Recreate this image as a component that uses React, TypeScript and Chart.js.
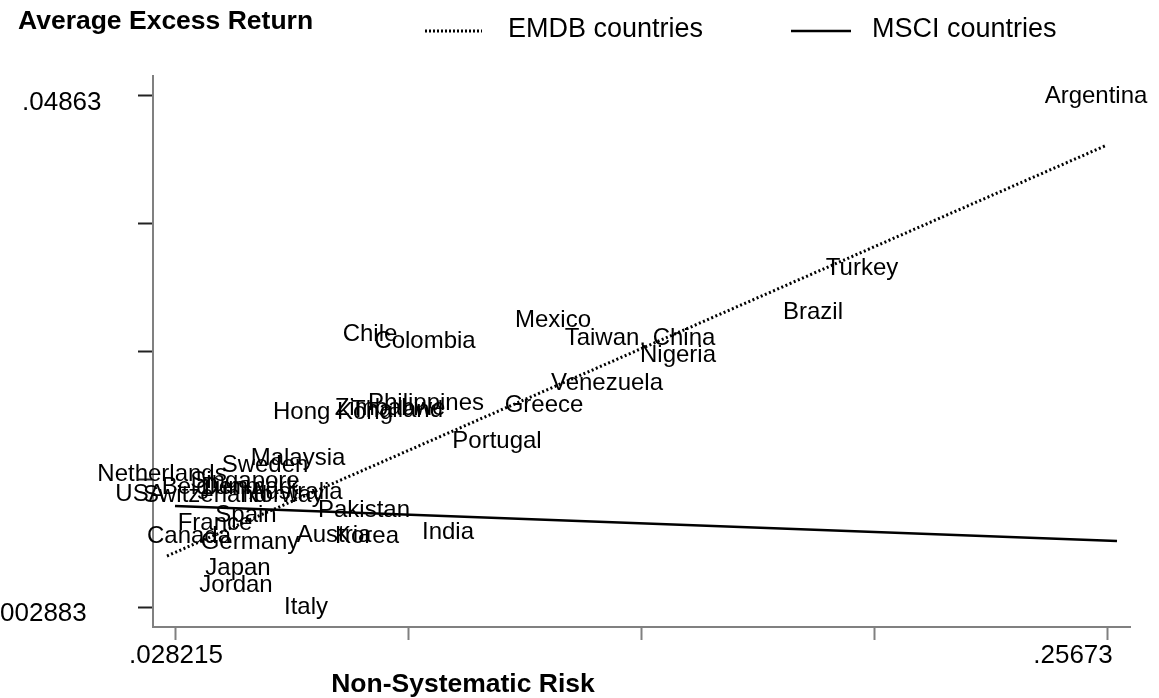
import React, { useEffect, useRef } from "react";
import { Chart, registerables } from "chart.js";

Chart.register(...registerables);

// EMDB countries (emerging markets)
const emdbCountries = [
  "Argentina", "Turkey", "Brazil", "Mexico", "Taiwan, China", "Nigeria", "Venezuela",
  "Greece", "Chile", "Colombia", "Philippines", "Zimbabwe", "Thailand", "Portugal",
  "Malaysia", "Pakistan", "Korea", "India", "Jordan",
];
const emdbRisk = [
  0.25403, 0.196594, 0.184567, 0.12075, 0.142104, 0.151431, 0.134004,
  0.118541, 0.075832, 0.089332, 0.089577, 0.080742, 0.08246, 0.107005,
  0.05816, 0.07436, 0.075096, 0.094978, 0.042942,
];
const emdbReturn = [
  0.04863, 0.03323, 0.029291, 0.028575, 0.026964, 0.025442, 0.022935,
  0.020966, 0.027322, 0.026695, 0.021145, 0.020697, 0.020518, 0.017743,
  0.016221, 0.011566, 0.009239, 0.009597, 0.004852,
];

// MSCI countries (developed markets)
const msciCountries = [
  "Hong Kong", "Netherlands", "Sweden", "Singapore", "Denmark", "Belgium", "Australia",
  "Norway", "Switzerland", "USA", "Spain", "France", "Canada", "Germany", "Austria",
  "Japan", "Italy",
];
const msciRisk = [
  0.066751, 0.024779, 0.05006, 0.045151, 0.046378, 0.035333, 0.057669,
  0.054478, 0.035333, 0.019379, 0.045397, 0.037788, 0.031406, 0.046378, 0.066996,
  0.043433, 0.060124,
];
const msciReturn = [
  0.020339, 0.014789, 0.015595, 0.014163, 0.013625, 0.013625, 0.013178,
  0.012909, 0.012909, 0.012999, 0.011119, 0.010403, 0.009239, 0.008702, 0.009328,
  0.006374, 0.002883,
];

// Fitted lines (end points)
const emdbFitRisk = [0.026006, 0.25673];
const emdbFitReturn = [0.007449, 0.044241];
const msciFitRisk = [0.02797, 0.259185];
const msciFitReturn = [0.011925, 0.008791];

// Axes
const xTickValues = [0.028215, 0.08534375, 0.1424725, 0.19960125, 0.25673];
const xTickLabels = [".028215", "", "", "", ".25673"];
const yTickValues = [0.002883, 0.01431975, 0.0257565, 0.03719325, 0.04863];
const yTickLabels = ["002883", "", "", "", ".04863"];
const xRange = [0.02257, 0.262374];
const yRange = [0.001093, 0.05042];

const xTitle = "Non-Systematic Risk";
const yTitle = "Average Excess Return";
const legendLabels = ["EMDB countries", "MSCI countries"];

const FONT = "'Liberation Sans', Arial, Helvetica, sans-serif";

const textPlugin = {
  id: "stataText",
  afterDraw(chart: any) {
    const ctx = chart.ctx as CanvasRenderingContext2D;
    const xs = chart.scales.x;
    const ys = chart.scales.y;
    const area = chart.chartArea;
    ctx.save();
    ctx.fillStyle = "#000";

    // marker labels (centred on the point)
    ctx.font = `24px ${FONT}`;
    ctx.textAlign = "center";
    ctx.textBaseline = "middle";
    const drawSet = (names: string[], xv: number[], yv: number[]) => {
      names.forEach((n, i) => {
        ctx.fillText(n, xs.getPixelForValue(xv[i]), ys.getPixelForValue(yv[i]));
      });
    };
    drawSet(msciCountries, msciRisk, msciReturn);
    drawSet(emdbCountries, emdbRisk, emdbReturn);

    // tick labels
    ctx.font = `26px ${FONT}`;
    xTickValues.forEach((v, i) => {
      const lab = xTickLabels[i];
      if (!lab) return;
      const px = xs.getPixelForValue(v);
      const shift = i === xTickValues.length - 1 ? -34 : 0;
      ctx.textAlign = "center";
      ctx.fillText(lab, px + shift, area.bottom + 29);
    });
    yTickValues.forEach((v, i) => {
      const lab = yTickLabels[i];
      if (!lab) return;
      const py = ys.getPixelForValue(v);
      ctx.textAlign = "left";
      ctx.fillText(lab, i === 0 ? 0 : 22, py + 7);
    });

    // axis titles
    ctx.font = `bold 26.5px ${FONT}`;
    ctx.textAlign = "left";
    ctx.fillText(yTitle, 18, 22);
    ctx.textAlign = "center";
    ctx.fillText(xTitle, 463, 685);

    // legend
    ctx.strokeStyle = "#000";
    ctx.lineWidth = 3;
    ctx.setLineDash([2, 2]);
    ctx.beginPath();
    ctx.moveTo(425, 31);
    ctx.lineTo(482, 31);
    ctx.stroke();
    ctx.setLineDash([]);
    ctx.lineWidth = 2.5;
    ctx.beginPath();
    ctx.moveTo(791, 31);
    ctx.lineTo(851, 31);
    ctx.stroke();
    ctx.font = `27px ${FONT}`;
    ctx.textAlign = "left";
    ctx.fillText(legendLabels[0], 508, 30);
    ctx.fillText(legendLabels[1], 872, 30);
    ctx.restore();
  },
};

export default function App() {
  const ref = useRef<HTMLCanvasElement | null>(null);
  useEffect(() => {
    if (!ref.current) return;
    const toPts = (xv: number[], yv: number[]) => xv.map((x, i) => ({ x, y: yv[i] }));
    const chart = new Chart(ref.current, {
      type: "scatter",
      data: {
        datasets: [
          {
            label: legendLabels[0] + " points",
            data: toPts(emdbRisk, emdbReturn),
            pointRadius: 0,
            pointHoverRadius: 0,
          },
          {
            label: legendLabels[1] + " points",
            data: toPts(msciRisk, msciReturn),
            pointRadius: 0,
            pointHoverRadius: 0,
          },
          {
            type: "line",
            label: legendLabels[0],
            data: toPts(emdbFitRisk, emdbFitReturn),
            borderColor: "#000",
            borderWidth: 3,
            borderDash: [2, 2.5],
            pointRadius: 0,
            fill: false,
            clip: false,
          } as any,
          {
            type: "line",
            label: legendLabels[1],
            data: toPts(msciFitRisk, msciFitReturn),
            borderColor: "#000",
            borderWidth: 2.5,
            pointRadius: 0,
            fill: false,
            clip: false,
          } as any,
        ],
      },
      options: {
        responsive: false,
        animation: false,
        events: [],
        layout: { autoPadding: false, padding: { left: 138, right: 29, top: 76, bottom: 58 } },
        plugins: { legend: { display: false }, tooltip: { enabled: false }, title: { display: false } },
        scales: {
          x: {
            type: "linear",
            min: xRange[0],
            max: xRange[1],
            afterBuildTicks: (axis: any) => {
              axis.ticks = xTickValues.map((value) => ({ value }));
            },
            ticks: { display: false },
            grid: { drawOnChartArea: false, drawTicks: true, tickLength: 13, tickColor: "#808080", tickWidth: 2 },
            border: { display: true, color: "#808080", width: 2 },
          },
          y: {
            type: "linear",
            min: yRange[0],
            max: yRange[1],
            afterBuildTicks: (axis: any) => {
              axis.ticks = yTickValues.map((value) => ({ value }));
            },
            ticks: { display: false },
            grid: { drawOnChartArea: false, drawTicks: true, tickLength: 15, tickColor: "#222", tickWidth: 2 },
            border: { display: true, color: "#808080", width: 2 },
          },
        },
      },
      plugins: [textPlugin],
    } as any);
    return () => chart.destroy();
  }, []);
  return (
    <div style={{ position: "absolute", left: 0, top: 0, width: 1159, height: 698, background: "#fff" }}>
      <canvas ref={ref} width={1159} height={698} style={{ display: "block" }} />
    </div>
  );
}
